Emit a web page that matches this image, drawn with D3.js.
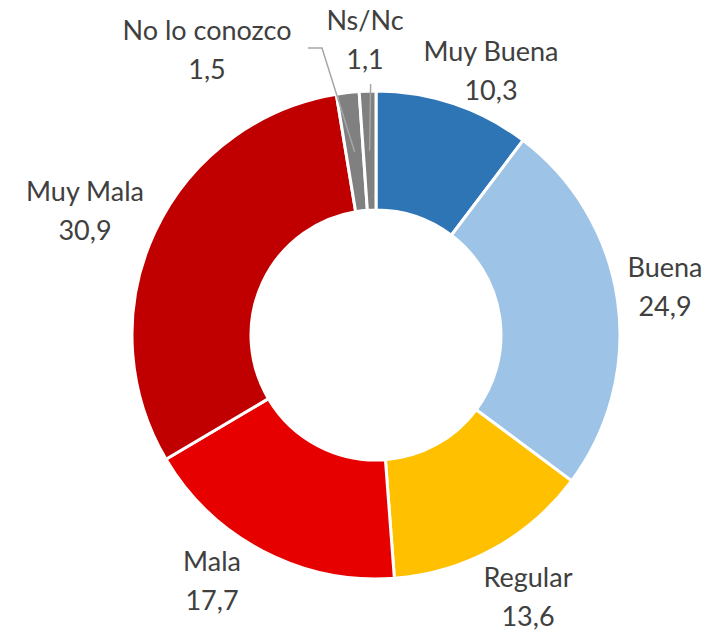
<!DOCTYPE html>
<html>
<head>
<meta charset="utf-8">
<script src="https://cdn.jsdelivr.net/npm/d3@7"></script>
<style>
  body { margin: 0; background: #fff; }
  svg { display: block; }
  .lbl { font-family: Lato, "Open Sans", sans-serif; font-size: 27px; fill: #404040; }
</style>
</head>
<body>
<svg width="708" height="633"></svg>
<script>
// data
var categories = ["Muy Buena", "Buena", "Regular", "Mala", "Muy Mala", "No lo conozco", "Ns/Nc"];
var values = [10.3, 24.9, 13.6, 17.7, 30.9, 1.5, 1.1];
var colors = ["#2E75B6", "#9DC3E6", "#FFC000", "#E60000", "#C00000", "#808080", "#808080"];

// label placement (centre of the two-line label), Excel-style hand placed
var labelXY = [[491, 72], [665, 288], [528, 598], [212, 582], [85, 212], [207, 51], [365, 41]];
var leader = [false, false, false, false, false, true, true];

var width = 708, height = 633;
var cx = 376, cy = 335;
var outer = 244, inner = 125;

var svg = d3.select("svg");
var g = svg.append("g").attr("transform", "translate(" + cx + "," + cy + ")");

var pie = d3.pie().sort(null).value(function(d) { return d; });
var arc = d3.arc().innerRadius(inner).outerRadius(outer);
var midArc = d3.arc().innerRadius((inner + outer) / 2).outerRadius((inner + outer) / 2);

var arcs = pie(values);

g.selectAll("path.slice")
  .data(arcs)
  .enter().append("path")
  .attr("class", "slice")
  .attr("d", arc)
  .attr("fill", function(d, i) { return colors[i]; })
  .attr("stroke", "#fff")
  .attr("stroke-width", 3);

var fmt = function(v) { return d3.format(".1f")(v).replace(".", ","); };

// leader lines for the tiny slices
arcs.forEach(function(d, i) {
  if (!leader[i]) return;
  var c = midArc.centroid(d);
  var lx = labelXY[i][0] - cx, ly = labelXY[i][1] - cy;
  var pts;
  if (i === 5) {
    // from right end of the first text line, short horizontal then down
    pts = [[lx + 101, ly - 3], [lx + 115, ly - 3], [c[0], c[1]]];
  } else {
    pts = [[c[0] + 1, ly + 43], [c[0], c[1]]];
  }
  g.append("path")
    .attr("d", d3.line()(pts))
    .attr("fill", "none")
    .attr("stroke", "#A6A6A6")
    .attr("stroke-width", 1.5);
});

// labels
arcs.forEach(function(d, i) {
  var t = svg.append("text")
    .attr("class", "lbl")
    .attr("text-anchor", "middle")
    .attr("x", labelXY[i][0])
    .attr("y", labelXY[i][1]);
  t.append("tspan").attr("x", labelXY[i][0]).attr("dy", "-0.4em").text(categories[i]);
  t.append("tspan").attr("x", labelXY[i][0]).attr("dy", "1.45em").text(fmt(values[i]));
});
</script>
</body>
</html>
